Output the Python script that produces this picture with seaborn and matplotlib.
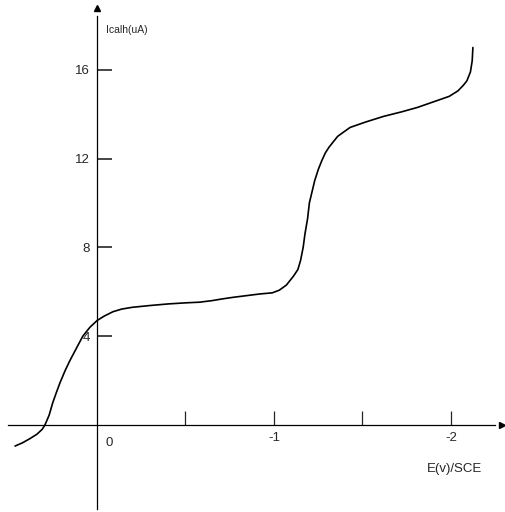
import matplotlib
matplotlib.use("Agg")
import matplotlib.pyplot as plt
import seaborn as sns
import pandas as pd

# Potential (V vs SCE) and cathodic current (uA)
potential = [0.463, 0.42, 0.38, 0.34, 0.31, 0.294, 0.27, 0.25, 0.23, 0.209, 0.18,
             0.153, 0.12, 0.08, 0.04, 0.0, -0.04, -0.09, -0.14, -0.2, -0.3,
             -0.4, -0.5, -0.58, -0.65, -0.71, -0.77, -0.85, -0.92, -0.99, -1.03,
             -1.07, -1.11, -1.135, -1.15, -1.165, -1.175, -1.19, -1.20, -1.215,
             -1.23, -1.25, -1.27, -1.29, -1.31, -1.36, -1.43, -1.52, -1.62, -1.72,
             -1.81, -1.90, -1.99, -2.04, -2.07, -2.09, -2.11, -2.12, -2.124]
current = [-0.95, -0.8, -0.62, -0.42, -0.2, 0.0, 0.45, 1.0, 1.45, 1.9, 2.45,
           2.9, 3.4, 4.0, 4.4, 4.7, 4.9, 5.1, 5.22, 5.3, 5.38,
           5.45, 5.5, 5.53, 5.6, 5.68, 5.75, 5.83, 5.9, 5.95, 6.07,
           6.3, 6.7, 7.0, 7.4, 8.0, 8.6, 9.3, 10.0, 10.5,
           11.0, 11.5, 11.9, 12.25, 12.5, 13.0, 13.4, 13.65, 13.9, 14.1,
           14.3, 14.55, 14.8, 15.05, 15.3, 15.5, 15.9, 16.4, 17.0]
y_ticks = [4, 8, 12, 16]
x_ticks = [-0.5, -1.0, -1.5, -2.0]
x_tick_labels = ["", "-1", "", "-2"]

sns.set_style("white")
plt.rcParams["font.family"] = ["Liberation Sans", "DejaVu Sans"]

df = pd.DataFrame({"E": potential, "I": current})

fig = plt.figure(figsize=(5.06, 5.12), dpi=100)
ax = fig.add_axes([0, 0, 1, 1])
sns.lineplot(data=df, x="E", y="I", sort=False, estimator=None, color="black",
             linewidth=1.2, ax=ax)
ax.lines[0].set_solid_joinstyle("round")

ax.set_xlim(0.548, -2.311)
ax.set_ylim(-3.92, 19.14)

for side in ["top", "right"]:
    ax.spines[side].set_visible(False)
ax.spines["left"].set_position(("data", 0))
ax.spines["bottom"].set_position(("data", 0))
ax.spines["left"].set_bounds(-3.8, 18.4)
ax.spines["bottom"].set_bounds(0.5, -2.25)
for side in ["left", "bottom"]:
    ax.spines[side].set_linewidth(0.9)
    ax.spines[side].set_color("black")

ax.set_yticks(y_ticks)
ax.set_yticklabels([str(v) for v in y_ticks])
ax.set_xticks(x_ticks)
ax.set_xticklabels(x_tick_labels)
ax.tick_params(axis="y", direction="in", length=11, width=1.2, pad=5,
               labelsize=9.5, left=True)
ax.tick_params(axis="x", direction="in", length=10, width=0.9, pad=5,
               labelsize=9.5, bottom=True)
ax.set_xlabel("")
ax.set_ylabel("")

# arrow heads
ax.plot([0], [18.8], marker="^", color="black", markersize=5, clip_on=False)
ax.plot([-2.29], [0], marker=">", color="black", markersize=5, clip_on=False)

ax.text(-0.07, -0.55, "0", ha="center", va="top", fontsize=9.5)
ax.text(-0.05, 17.8, "Icalh(uA)", ha="left", va="center", fontsize=7.5)
ax.text(-2.02, -1.7, "E(v)/SCE", ha="center", va="top", fontsize=9.5)

fig.savefig("out.png", dpi=100)
